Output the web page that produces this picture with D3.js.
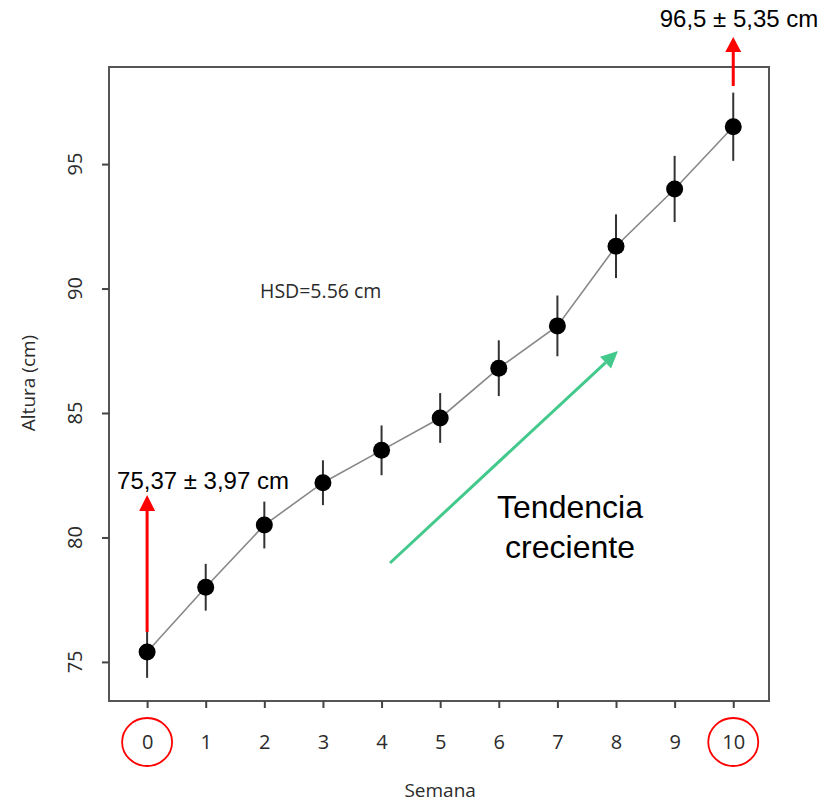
<!DOCTYPE html>
<html>
<head>
<meta charset="utf-8">
<script src="https://cdn.jsdelivr.net/npm/d3@7"></script>
<style>
  body { margin: 0; background: #fff; }
  svg { display: block; }
</style>
</head>
<body>
<svg id="chart" width="823" height="803"></svg>
<script>
// datos
const semanas = [0, 1, 2, 3, 4, 5, 6, 7, 8, 9, 10];
const alturas = [75.4, 78.0, 80.5, 82.2, 83.5, 84.8, 86.8, 88.5, 91.7, 94.0, 96.5];
const errores = [1.04, 0.94, 0.94, 0.9, 1.0, 1.0, 1.12, 1.22, 1.28, 1.33, 1.37];
const yTicks = [75, 80, 85, 90, 95];
const hsdLabel = "HSD=5.56 cm";
const labelInicio = "75,37 ± 3,97 cm";
const labelFin = "96,5 ± 5,35 cm";
const tendencia = ["Tendencia", "creciente"];

const svg = d3.select("#chart");
const box = {left: 109, top: 67, right: 769, bottom: 701};
const axisFont = "'Open Sans', sans-serif";
const annFont = "'Liberation Sans', Arial, sans-serif";

const x = d3.scaleLinear().domain([-0.65, 10.61]).range([box.left, box.right]);
const y = d3.scaleLinear().domain([73.43, 98.9]).range([box.bottom, box.top]);

// marco
svg.append("rect")
    .attr("x", box.left).attr("y", box.top)
    .attr("width", box.right - box.left).attr("height", box.bottom - box.top)
    .attr("fill", "none").attr("stroke", "#555").attr("stroke-width", 2);

// eje x
const gx = svg.append("g")
    .attr("transform", `translate(0,${box.bottom})`)
    .call(d3.axisBottom(x).tickValues(semanas).tickSize(7).tickPadding(27).tickFormat(d3.format("d")));
gx.select(".domain").remove();
gx.selectAll("line").attr("stroke", "#444").attr("stroke-width", 2);
gx.selectAll("text").attr("fill", "#2b2b2b").style("font-family", axisFont).style("font-size", "20px");

// eje y
const gy = svg.append("g")
    .attr("transform", `translate(${box.left},0)`)
    .call(d3.axisLeft(y).tickValues(yTicks).tickSize(7).tickFormat(""));
gy.select(".domain").remove();
gy.selectAll("line").attr("stroke", "#444").attr("stroke-width", 2);
svg.append("g").selectAll("text")
    .data(yTicks)
    .join("text")
    .attr("transform", d => `translate(82,${y(d)}) rotate(-90)`)
    .attr("text-anchor", "middle")
    .attr("fill", "#2b2b2b")
    .style("font-family", axisFont).style("font-size", "20px")
    .text(d => d);

// títulos de ejes
svg.append("text")
    .attr("x", x(5)).attr("y", 797)
    .attr("text-anchor", "middle").attr("fill", "#2b2b2b")
    .style("font-family", axisFont).style("font-size", "19px")
    .text("Semana");
svg.append("text")
    .attr("transform", `translate(35,383) rotate(-90)`)
    .attr("text-anchor", "middle").attr("fill", "#2b2b2b")
    .style("font-family", axisFont).style("font-size", "19px")
    .text("Altura (cm)");

// línea de medias
const line = d3.line().x((d, i) => x(semanas[i])).y(d => y(d));
svg.append("path")
    .datum(alturas)
    .attr("d", line)
    .attr("fill", "none").attr("stroke", "#888").attr("stroke-width", 1.6);

// barras de error
svg.append("g").selectAll("line")
    .data(alturas)
    .join("line")
    .attr("x1", (d, i) => x(semanas[i])).attr("x2", (d, i) => x(semanas[i]))
    .attr("y1", (d, i) => y(d - errores[i])).attr("y2", (d, i) => y(d + errores[i]))
    .attr("stroke", "#333").attr("stroke-width", 2);

// puntos
svg.append("g").selectAll("circle")
    .data(alturas)
    .join("circle")
    .attr("cx", (d, i) => x(semanas[i])).attr("cy", d => y(d))
    .attr("r", 8.5).attr("fill", "#000");

// HSD
svg.append("text")
    .attr("x", 260).attr("y", 298).attr("fill", "#2b2b2b")
    .style("font-family", axisFont).style("font-size", "19.5px")
    .text(hsdLabel);

// flechas
function arrow(x1, y1, x2, y2, color, head, half) {
  const ang = Math.atan2(y2 - y1, x2 - x1);
  const bx = x2 - head * Math.cos(ang), by = y2 - head * Math.sin(ang);
  svg.append("line")
      .attr("x1", x1).attr("y1", y1).attr("x2", bx).attr("y2", by)
      .attr("stroke", color).attr("stroke-width", 3);
  const px = -Math.sin(ang) * half, py = Math.cos(ang) * half;
  svg.append("path")
      .attr("d", `M${x2},${y2}L${bx + px},${by + py}L${bx - px},${by - py}Z`)
      .attr("fill", color);
}
arrow(x(0), 632, x(0), 495, "#f00", 16, 8);
arrow(x(10), 86, x(10), 37, "#f00", 15, 8);
arrow(390, 563, 618, 351, "#42c98b", 17, 8);

// círculos rojos en 0 y 10
svg.append("g").selectAll("ellipse")
    .data([semanas[0], semanas[semanas.length - 1]])
    .join("ellipse")
    .attr("cx", d => x(d)).attr("cy", 742)
    .attr("rx", 25).attr("ry", 24)
    .attr("fill", "none").attr("stroke", "#f00").attr("stroke-width", 1.8);

// anotaciones
svg.append("text")
    .attr("x", 203).attr("y", 489).attr("text-anchor", "middle").attr("fill", "#000")
    .style("font-family", annFont).style("font-size", "24px")
    .text(labelInicio);
svg.append("text")
    .attr("x", 739).attr("y", 27).attr("text-anchor", "middle").attr("fill", "#000")
    .style("font-family", annFont).style("font-size", "24px")
    .text(labelFin);
svg.append("text")
    .attr("x", 570).attr("text-anchor", "middle").attr("fill", "#000")
    .style("font-family", annFont).style("font-size", "32px")
    .selectAll("tspan")
    .data(tendencia)
    .join("tspan")
    .attr("x", 570).attr("y", (d, i) => 518 + i * 40)
    .text(d => d);
</script>
</body>
</html>
